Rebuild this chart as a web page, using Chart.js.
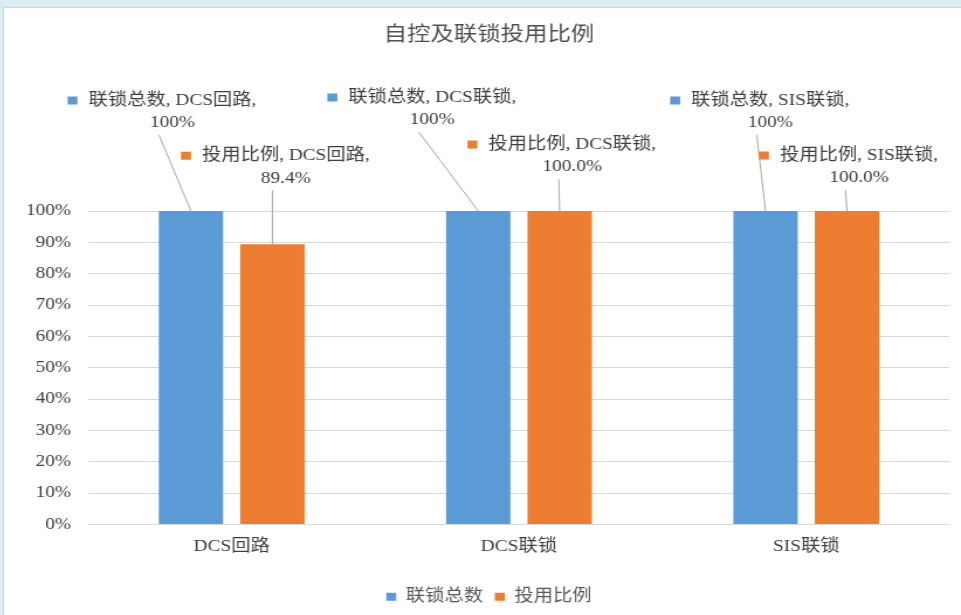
<!DOCTYPE html>
<html>
<head>
<meta charset="utf-8">
<script src="https://cdn.jsdelivr.net/npm/chart.js@4.4.1/dist/chart.umd.min.js"></script>
<style>
  html, body { margin: 0; padding: 0; }
  body { width: 961px; height: 615px; background: #dcedf4; overflow: hidden; position: relative; }
  #panel { position: absolute; left: 3px; top: 7px; width: 958px; height: 608px; background: #fff;
           border-left: 1px solid #d4d4d4; border-top: 1px solid #d4d4d4; box-sizing: border-box; }
  #c { position: absolute; left: 0; top: 0; }
</style>
</head>
<body>
<div id="panel"><canvas id="c" width="818" height="607" style="width:957px;height:607px"></canvas></div>
<script>
// ---- data ----
const categories = ['DCS回路', 'DCS联锁', 'SIS联锁'];
const seriesNames = ['联锁总数', '投用比例'];
const totalValues = [100, 100, 100];
const usedValues = [89.4, 100, 100];
const yTickValues = [0, 10, 20, 30, 40, 50, 60, 70, 80, 90, 100];

// ---- styling ----
const FONT = '"Liberation Serif", "Noto Sans CJK SC", serif';
const seriesColors = ['#5b9bd5', '#ed7d31'];
const valueDecimals = [0, 1];
// where each callout's value line sits, relative to the top centre of its bar
const labelOffsets = [
  [[-15.8, -88], [-39.3, -91], [4.0, -88]],
  [[11.5, -66], [10.8, -44], [10.3, -33]]
];

const calloutLabels = {
  id: 'calloutLabels',
  afterDatasetsDraw(chart) {
    const ctx = chart.ctx;
    ctx.save();
    ctx.font = '16.5px ' + FONT;
    ctx.textBaseline = 'middle';
    chart.data.datasets.forEach((ds, i) => {
      const meta = chart.getDatasetMeta(i);
      meta.data.forEach((bar, j) => {
        const [dx, dy] = labelOffsets[i][j];
        const cx = bar.x + dx;
        const cy = bar.y + dy;
        const line1 = `${ds.label}, ${chart.data.labels[j]},`;
        const line2 = ds.data[j].toFixed(valueDecimals[i]) + '%';

        // leader line from the label to the bar top
        ctx.strokeStyle = '#a6a6a6';
        ctx.lineWidth = 1;
        ctx.beginPath();
        ctx.moveTo(cx - 11.5, cy + 12);
        ctx.lineTo(bar.x, bar.y);
        ctx.stroke();

        ctx.fillStyle = '#404040';
        ctx.textAlign = 'center';
        ctx.fillText(line1, cx, cy - 22.5);
        ctx.fillText(line2, cx, cy);

        // series key in front of the first line
        const w = ctx.measureText(line1).width;
        ctx.fillStyle = ds.backgroundColor;
        ctx.fillRect(cx - w / 2 - 9.4 - 8.5, cy - 22.5 - 4, 8.5, 8);
      });
    });
    ctx.restore();
  }
};

new Chart(document.getElementById('c'), {
  type: 'bar',
  data: {
    labels: categories,
    datasets: [
      { label: seriesNames[0], data: totalValues, backgroundColor: seriesColors[0],
        categoryPercentage: 0.567, barPercentage: 0.79 },
      { label: seriesNames[1], data: usedValues, backgroundColor: seriesColors[1],
        categoryPercentage: 0.567, barPercentage: 0.79 }
    ]
  },
  options: {
    responsive: false,
    animation: false,
    devicePixelRatio: 1,
    layout: { padding: { left: 20.5, right: 9.5, top: 0, bottom: 0 } },
    plugins: {
      title: {
        display: true,
        text: '自控及联锁投用比例',
        color: '#505050',
        font: { family: FONT, size: 20, weight: 'normal' },
        padding: { top: 16, bottom: 163 }
      },
      legend: {
        position: 'bottom',
        labels: { boxWidth: 8.5, boxHeight: 8, color: '#595959',
                  font: { family: FONT, size: 16.5 }, padding: 10 }
      },
      tooltip: { enabled: false }
    },
    scales: {
      x: {
        grid: { display: false, drawTicks: false },
        border: { display: false },
        ticks: { color: '#404040', font: { family: FONT, size: 16.5 }, padding: 12 },
        afterFit(s) { s.height = 54; }
      },
      y: {
        min: 0,
        max: 100,
        afterBuildTicks(s) { s.ticks = yTickValues.map(v => ({ value: v })); },
        ticks: { color: '#404040', font: { family: FONT, size: 16.5 }, padding: 14.5,
                 callback: v => v + '%' },
        grid: { color: '#d9d9d9', drawTicks: false },
        border: { display: false },
        afterFit(s) { s.width = 51.3; }
      }
    }
  },
  plugins: [calloutLabels]
});
</script>
</body>
</html>
